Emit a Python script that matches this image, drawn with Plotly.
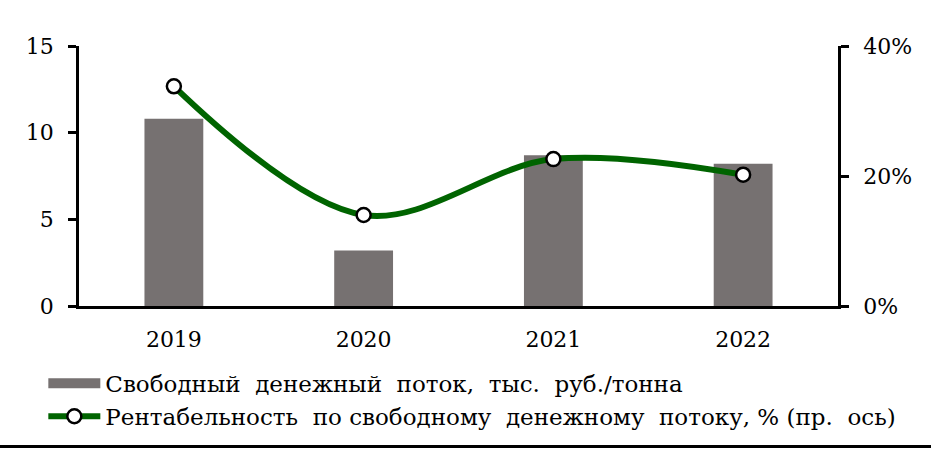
import plotly.graph_objects as go

# data
years = ["2019", "2020", "2021", "2022"]
fcf = [10.8, 3.2, 8.7, 8.2]
fcf_margin = [33.8, 14.0, 22.6, 20.2]
left_ticks = [0, 5, 10, 15]
right_ticks = [0, 20, 40]
right_tick_text = ["0%", "20%", "40%"]

bar_name = "Свободный\u00a0 денежный\u00a0 поток,\u00a0 тыс.\u00a0 руб./тонна"
line_name = "Рентабельность\u00a0 по свободному\u00a0 денежному\u00a0 потоку, % (пр.\u00a0 ось)"

font_family = "DejaVu Serif"
bar_color = "#767171"

fig = go.Figure()

fig.add_trace(
    go.Bar(
        x=years,
        y=fcf,
        name=bar_name,
        marker=dict(color=bar_color, line=dict(width=0)),
        width=0.31,
        showlegend=False
    )
)

# legend entry for the bars (wide rectangle swatch)
fig.add_trace(
    go.Scatter(
        x=[None],
        y=[None],
        name=bar_name,
        mode="lines",
        line=dict(color=bar_color, width=16)
    )
)

fig.add_trace(
    go.Scatter(
        x=years,
        y=fcf_margin,
        name=line_name,
        yaxis="y2",
        mode="lines+markers",
        line=dict(color="#006400", width=6, shape="spline", smoothing=1.0),
        marker=dict(size=14, color="white", line=dict(color="black", width=2.5))
    )
)

fig.update_layout(
    width=931,
    height=453,
    margin=dict(l=79, r=93, t=46, b=147),
    plot_bgcolor="white",
    paper_bgcolor="white",
    font=dict(family=font_family, size=22, color="black"),
    showlegend=True,
    legend=dict(
        x=-0.047,
        y=-0.215,
        xanchor="left",
        yanchor="top",
        orientation="v",
        font=dict(size=23),
        itemwidth=52,
        tracegroupgap=6,
        bgcolor="rgba(0,0,0,0)"
    ),
    xaxis=dict(
        range=[-0.5, 3.5],
        showline=True,
        linecolor="black",
        linewidth=2.5,
        ticks="outside",
        ticklen=12,
        tickcolor="rgba(0,0,0,0)",
        showgrid=False,
        zeroline=False,
        tickfont=dict(size=22)
    ),
    yaxis=dict(
        range=[0, 15],
        tickvals=left_ticks,
        showline=True,
        linecolor="black",
        linewidth=2.5,
        ticks="outside",
        ticklen=8,
        tickwidth=2.5,
        tickcolor="black",
        ticklabelstandoff=10,
        showgrid=False,
        zeroline=False,
        tickfont=dict(size=22)
    ),
    yaxis2=dict(
        range=[0, 40],
        overlaying="y",
        side="right",
        tickvals=right_ticks,
        ticktext=right_tick_text,
        showline=True,
        linecolor="black",
        linewidth=2.5,
        ticks="outside",
        ticklen=8,
        tickwidth=2.5,
        tickcolor="black",
        ticklabelstandoff=10,
        showgrid=False,
        zeroline=False,
        tickfont=dict(size=22)
    ),
    shapes=[
        dict(
            type="line",
            xref="paper",
            yref="paper",
            x0=-0.11,
            x1=1.13,
            y0=-0.54,
            y1=-0.54,
            line=dict(color="black", width=3)
        )
    ]
)

fig.write_html(
    "out.html",
    config={"displayModeBar": False},
    post_script="document.body.style.margin='0';"
)
